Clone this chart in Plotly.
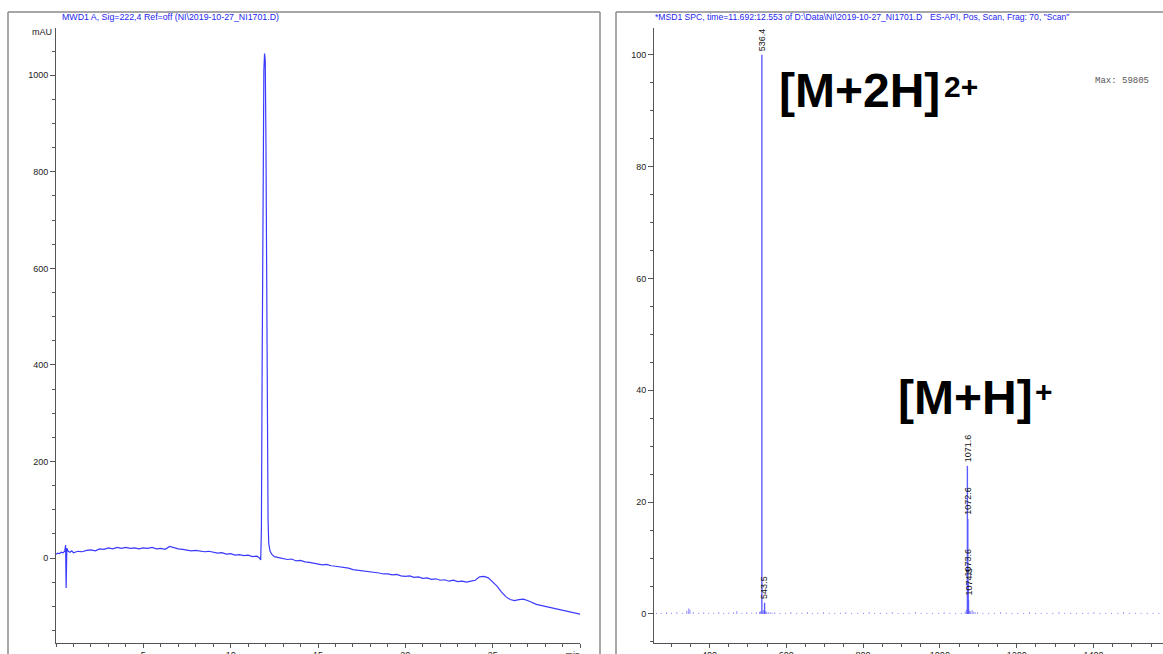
import plotly.graph_objects as go

W, H = 1163, 654

# ---------------- DAD chromatogram (MWD1 A, 222 nm) ----------------
time_min = [
    0.00, 0.10, 0.20, 0.30, 0.40, 0.50, 0.55, 0.58, 0.62, 0.70, 0.80, 0.90,
    1.00, 1.25, 1.50, 1.75, 2.00, 2.25, 2.50, 2.75, 3.00, 3.25, 3.50, 3.75,
    4.00, 4.25, 4.50, 4.75, 5.00, 5.25, 5.50, 5.75, 6.00, 6.25, 6.50, 6.75,
    7.00, 7.25, 7.50, 7.75, 8.00, 8.25, 8.50, 8.75, 9.00, 9.25, 9.50, 9.75,
    10.00, 10.25, 10.50, 10.75, 11.00, 11.25, 11.50, 11.65, 11.72, 11.76,
    11.80, 11.85, 11.90, 11.94, 11.98, 12.02, 12.06, 12.10, 12.14, 12.18,
    12.25, 12.35, 12.50, 12.75, 13.00, 13.25, 13.50, 13.75, 14.00, 14.25,
    14.50, 14.75, 15.00, 15.25, 15.50, 15.75, 16.00, 16.25, 16.50, 16.75,
    17.00, 17.25, 17.50, 17.75, 18.00, 18.25, 18.50, 18.75, 19.00, 19.25,
    19.50, 19.75, 20.00, 20.25, 20.50, 20.75, 21.00, 21.25, 21.50, 21.75,
    22.00, 22.25, 22.50, 22.75, 23.00, 23.25, 23.50, 23.75, 24.00, 24.25,
    24.50, 24.75, 25.00, 25.25, 25.50, 25.75, 26.00, 26.25, 26.50, 26.75,
    27.00, 27.25, 27.50, 27.75, 28.00, 28.25, 28.50, 28.75, 29.00, 29.25,
    29.50, 29.75, 30.00,
]
signal_mau = [
    8, 10, 9, 12, 11, 14, 27, -62, 20, 14, 12, 15,
    11, 14, 13, 16, 17, 15, 19, 18, 21, 19, 22, 20,
    22, 20, 21, 19, 21, 20, 22, 19, 20, 18, 24, 21,
    19, 18, 17, 15, 16, 14, 13, 14, 12, 10, 11, 8,
    9, 6, 7, 5, 6, 3, 4, 0, -4, 60,
    380, 780, 1010, 1045, 1030, 860, 560, 250, 80, 30,
    15, 8, 3, 1, -1, -3, -2, -6, -5, -8,
    -9, -11, -12, -14, -13, -16, -17, -18, -20, -21,
    -24, -25, -26, -28, -29, -30, -31, -33, -33, -35,
    -34, -37, -38, -37, -40, -39, -42, -41, -44, -43,
    -46, -45, -48, -46, -49, -48, -50, -48, -46, -39,
    -38, -41, -50, -58, -70, -80, -86, -88, -86, -85,
    -88, -92, -96, -98, -100, -102, -104, -106, -108, -110,
    -111, -113, -116,
]

x1_ticks = [5, 10, 15, 20, 25, 30]
x1_ticktext = ["5", "10", "15", "20", "25", "min"]
y1_ticks = [0, 200, 400, 600, 800, 1000]

# ---------------- MS spectrum (MSD1 SPC) ----------------
mz_peaks = [536.4, 543.5, 1071.6, 1072.6, 1073.6, 1074.5]
abund_peaks = [100.0, 2.0, 26.5, 17.0, 6.0, 2.5]

mz_minor = [
    262, 274, 288, 301, 315, 330, 341, 346, 349, 358, 372, 385, 398, 411,
    424, 437, 450, 463, 471, 484, 497, 510, 522, 530, 533, 539, 541, 546,
    549, 553, 558, 563, 570, 584, 598, 612, 627, 641, 655, 668, 682, 697,
    712, 726, 741, 755, 770, 786, 801, 816, 830, 845, 861, 876, 891, 905,
    920, 936, 951, 966, 981, 996, 1011, 1026, 1041, 1056, 1066, 1069, 1077,
    1080, 1084, 1088, 1092, 1098, 1112, 1127, 1142, 1158, 1173, 1188, 1203,
    1218, 1233, 1249, 1264, 1279, 1294, 1310, 1325, 1340, 1356, 1371, 1386,
    1401, 1417, 1432, 1447, 1463, 1478, 1494, 1509, 1524, 1540, 1555, 1570,
]
abund_minor = [
    0.2, 0.2, 0.3, 0.2, 0.3, 0.2, 0.6, 1.0, 0.8, 0.3, 0.2, 0.3, 0.2, 0.2,
    0.3, 0.2, 0.2, 0.3, 0.5, 0.2, 0.3, 0.2, 0.3, 0.4, 0.5, 0.6, 0.7, 0.5,
    0.4, 0.3, 0.3, 0.2, 0.3, 0.2, 0.2, 0.3, 0.2, 0.2, 0.3, 0.2, 0.2, 0.3,
    0.2, 0.2, 0.2, 0.3, 0.2, 0.2, 0.2, 0.3, 0.2, 0.2, 0.2, 0.3, 0.2, 0.2,
    0.2, 0.3, 0.2, 0.2, 0.2, 0.2, 0.3, 0.2, 0.2, 0.2, 0.4, 0.8, 0.6,
    0.5, 0.7, 0.4, 0.3, 0.3, 0.2, 0.2, 0.2, 0.3, 0.2, 0.2, 0.2,
    0.2, 0.3, 0.2, 0.2, 0.2, 0.2, 0.3, 0.2, 0.2, 0.2, 0.2, 0.2,
    0.3, 0.2, 0.2, 0.2, 0.2, 0.3, 0.2, 0.2, 0.2, 0.2, 0.2, 0.2,
]

x2_ticks = [400, 600, 800, 1000, 1200, 1400, 1600]
x2_ticktext = ["400", "600", "800", "1000", "1200", "1400", "m/z"]
y2_ticks = [0, 20, 40, 60, 80, 100]
max_abundance = 59805

TRACE_BLUE = "#3a3aff"
STICK_BLUE = "#5c5cff"
TITLE_BLUE = "#2424f0"
AXIS_GREY = "#555555"
FONT = "Liberation Sans, Arial, sans-serif"

AXIS_BOTTOM = 643  # pixel row of both time / m/z axes


def px(x):
    return x / W


def py(y):
    return 1 - y / H


def sticks(mz, ab):
    xs, ys = [], []
    for m, a in zip(mz, ab):
        xs += [m, m, None]
        ys += [0, a, None]
    return xs, ys


fig = go.Figure()

fig.add_trace(go.Scatter(
    x=time_min, y=signal_mau, mode="lines",
    line=dict(color=TRACE_BLUE, width=1.2),
    xaxis="x", yaxis="y", hoverinfo="skip",
))

mx, my = sticks(mz_minor, abund_minor)
fig.add_trace(go.Scatter(
    x=mx, y=my, mode="lines",
    line=dict(color="#8f8fff", width=1),
    xaxis="x2", yaxis="y2", hoverinfo="skip",
))
sx, sy = sticks(mz_peaks, abund_peaks)
fig.add_trace(go.Scatter(
    x=sx, y=sy, mode="lines",
    line=dict(color=STICK_BLUE, width=1.4),
    xaxis="x2", yaxis="y2", hoverinfo="skip",
))

# x tick labels live in a thin strip under each axis; the strip clips them
# at the bottom edge of the page
label_y = -0.15
fig.add_trace(go.Scatter(
    x=x1_ticks[:-1], y=[label_y] * (len(x1_ticks) - 1), text=x1_ticktext[:-1],
    mode="text", textposition="middle center", cliponaxis=True,
    textfont=dict(family=FONT, size=9, color="#222222"),
    xaxis="x", yaxis="y3", hoverinfo="skip",
))
fig.add_trace(go.Scatter(
    x=x1_ticks[-1:], y=[label_y], text=x1_ticktext[-1:],
    mode="text", textposition="middle left", cliponaxis=True,
    textfont=dict(family=FONT, size=9, color="#222222"),
    xaxis="x", yaxis="y3", hoverinfo="skip",
))
fig.add_trace(go.Scatter(
    x=x2_ticks, y=[label_y] * len(x2_ticks), text=x2_ticktext,
    mode="text", textposition="middle center", cliponaxis=True,
    textfont=dict(family=FONT, size=9, color="#222222"),
    xaxis="x2", yaxis="y4", hoverinfo="skip",
))

axis_common = dict(
    showline=True, linecolor=AXIS_GREY, linewidth=1,
    showgrid=False, zeroline=False,
    ticks="outside", ticklen=5, tickcolor=AXIS_GREY, tickwidth=1,
    tickfont=dict(family=FONT, size=9, color="#222222"),
    fixedrange=True,
)
minor_t = dict(ticklen=3, tickcolor=AXIS_GREY, ticks="outside")
strip = dict(visible=False, range=[0, 1], fixedrange=True,
             domain=[0, py(AXIS_BOTTOM)])

fig.update_layout(
    width=W, height=H, autosize=False,
    margin=dict(l=0, r=0, t=0, b=0),
    paper_bgcolor="white", plot_bgcolor="rgba(0,0,0,0)",
    showlegend=False,
    xaxis=dict(
        axis_common, domain=[px(56), px(580)], range=[0, 30], ticklen=4,
        anchor="y", tickmode="array", tickvals=x1_ticks, showticklabels=False,
        minor=dict(minor_t, dtick=1),
    ),
    yaxis=dict(
        axis_common, domain=[py(AXIS_BOTTOM), py(28)], range=[-176, 1098],
        anchor="x", tickmode="array", tickvals=y1_ticks,
        minor=dict(minor_t, dtick=50),
    ),
    xaxis2=dict(
        axis_common, domain=[px(654), 1.0], range=[255.5, 1581], ticklen=4,
        anchor="y2", tickmode="array", tickvals=x2_ticks, showticklabels=False,
        minor=dict(minor_t, dtick=50),
    ),
    yaxis2=dict(
        axis_common, domain=[py(AXIS_BOTTOM), py(28)], range=[-5.19, 104.8],
        anchor="x2", tickmode="array", tickvals=y2_ticks,
        minor=dict(minor_t, dtick=5),
    ),
    yaxis3=dict(strip, anchor="x"),
    yaxis4=dict(strip, anchor="x2"),
)

# panel frames (open at the bottom / right page edge)
frame_line = dict(type="line", xref="paper", yref="paper",
                  line=dict(color="#8a8a8a", width=1.5), layer="below")
for x0, y0, x1, y1 in [
    (8, 12, 600, 12), (8, 12, 8, 654), (600, 12, 600, 654),
    (616, 12, 1163, 12), (616, 12, 616, 654),
]:
    fig.add_shape(frame_line, x0=px(x0), y0=py(y0), x1=px(x1), y1=py(y1))

ann = []


def label(text, x, y, size, color="#222222", family=FONT, xanchor="left"):
    ann.append(dict(
        text=text, x=px(x), y=py(y), xref="paper", yref="paper",
        xanchor=xanchor, yanchor="middle", showarrow=False,
        font=dict(family=family, size=size, color=color),
    ))


label("MWD1 A, Sig=222,4 Ref=off (NI\\2019-10-27_NI1701.D)", 60, 17, 8.8, TITLE_BLUE)
label("*MSD1 SPC, time=11.692:12.553 of D:\\Data\\NI\\2019-10-27_NI1701.D", 653, 17, 8.6, TITLE_BLUE)
label('ES-API, Pos, Scan, Frag: 70, "Scan"', 928, 17, 8.6, TITLE_BLUE)
label("mAU", 42, 32, 9, xanchor="center")
label(f"Max: {max_abundance}", 1093, 81, 9, "#555555",
      family="Liberation Mono, Courier New, monospace")

# m/z labels above each labelled ion
for m, a in zip(mz_peaks, abund_peaks):
    ann.append(dict(
        text=f"{m:.1f}", x=m, y=a, xref="x2", yref="y2",
        xanchor="center", yanchor="bottom", yshift=2, textangle=-90,
        showarrow=False, font=dict(family=FONT, size=9, color="#111111"),
    ))

# ion assignments: main text plus a separately placed charge superscript
ion_labels = [
    ("[M+2H]", "2+", 777, 90, 942, 86),
    ("[M+H]", "+", 896, 397, 1033, 391),
]
for main, charge, xm, ym, xs_, ys_ in ion_labels:
    label(f"<b>{main}</b>", xm, ym, 48, "#000000")
    label(f"<b>{charge}</b>", xs_, ys_, 30, "#000000")

fig.update_layout(annotations=ann)

fig.write_html("out.html")
